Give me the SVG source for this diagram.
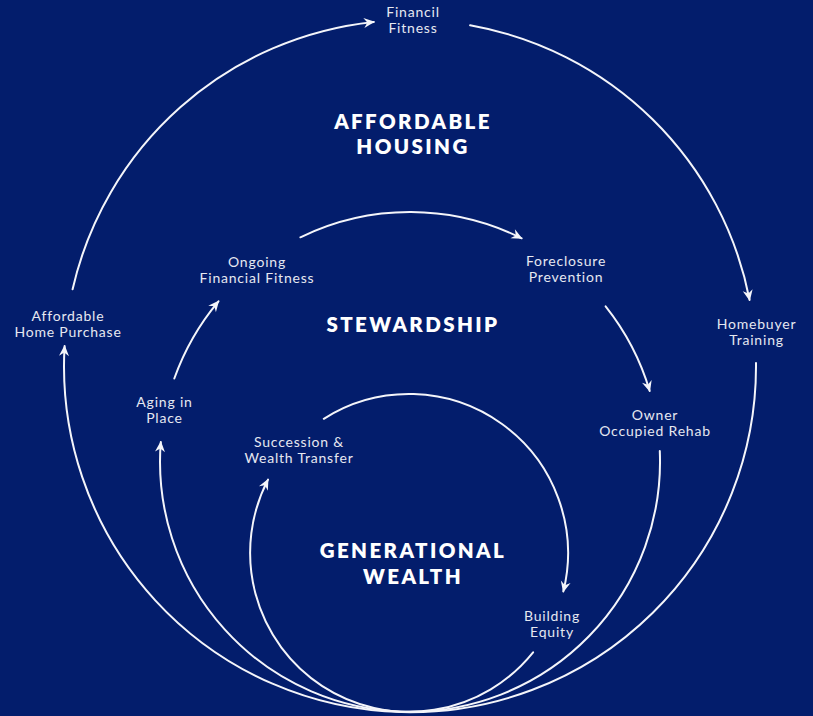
<svg xmlns="http://www.w3.org/2000/svg" width="813" height="716" viewBox="0 0 813 716">
  <style>
    .bg { fill: #031d6c; }
    .arc { fill: none; stroke: #f4f5fa; stroke-width: 2; stroke-linecap: round; }
    .arrowed { marker-end: url(#head); }
    .label { font-family: Lato, "Open Sans", "Liberation Sans", sans-serif; font-size: 14px; letter-spacing: 0.8px; fill: #e6e8f1; text-anchor: middle; }
    .title { font-family: Lato, "Open Sans", "Liberation Sans", sans-serif; font-weight: 800; font-size: 20.5px; letter-spacing: 2.4px; fill: #ffffff; text-anchor: middle; }
  </style>
  <defs>
    <marker id="head" viewBox="-11 -6 13 12" markerWidth="13" markerHeight="12" refX="0" refY="0" orient="auto" markerUnits="userSpaceOnUse">
      <path d="M1,0 L-10,-5 L-6.5,0 L-10,5 Z" fill="#f4f5fa"/>
    </marker>
  </defs>

  <rect class="bg" x="0" y="0" width="813" height="716"/>

  <!-- three circles touching at the bottom, broken where labels sit -->
  <g id="connectors">
    <!-- outer ring: centre (410,366), r 346 -->
    <path class="arc arrowed" d="M756,363 A346,346 0 1 1 64.6,346.1"/>
    <path class="arc arrowed" d="M72.6,289.3 A346,346 0 0 1 373.8,21.9"/>
    <path class="arc arrowed" d="M470.1,25.3 A346,346 0 0 1 749.6,300"/>
    <!-- middle ring: centre (410,462), r 250 -->
    <path class="arc arrowed" d="M659.8,451.1 A250,250 0 1 1 160.8,442"/>
    <path class="arc arrowed" d="M174.3,378.5 A250,250 0 0 1 218.5,301.3"/>
    <path class="arc arrowed" d="M300.4,237.3 A250,250 0 0 1 521.6,238.3"/>
    <path class="arc arrowed" d="M605.6,306.4 A250,250 0 0 1 649.7,391"/>
    <!-- inner ring: centre (409,553), r 159 -->
    <path class="arc arrowed" d="M533.1,652.4 A159,159 0 0 1 268,479.6"/>
    <path class="arc arrowed" d="M323.8,418.8 A159,159 0 0 1 563.3,591.5"/>
  </g>

  <g id="affordable-housing">
    <text class="title" x="413" y="128.5">AFFORDABLE</text>
    <text class="title" x="413" y="154">HOUSING</text>
  </g>
  <g id="stewardship">
    <text class="title" x="413" y="331.5">STEWARDSHIP</text>
  </g>
  <g id="generational-wealth">
    <text class="title" x="413" y="558">GENERATIONAL</text>
    <text class="title" x="413" y="584">WEALTH</text>
  </g>

  <g id="financil-fitness">
    <text class="label" x="413" y="16.5">Financil</text>
    <text class="label" x="413" y="32.5">Fitness</text>
  </g>
  <g id="homebuyer-training">
    <text class="label" x="756.5" y="329">Homebuyer</text>
    <text class="label" x="756.5" y="345">Training</text>
  </g>
  <g id="affordable-home-purchase">
    <text class="label" x="68" y="321">Affordable</text>
    <text class="label" x="68" y="336.5">Home Purchase</text>
  </g>
  <g id="ongoing-financial-fitness">
    <text class="label" x="257" y="267">Ongoing</text>
    <text class="label" x="257" y="283">Financial Fitness</text>
  </g>
  <g id="foreclosure-prevention">
    <text class="label" x="566" y="266">Foreclosure</text>
    <text class="label" x="566" y="282">Prevention</text>
  </g>
  <g id="owner-occupied-rehab">
    <text class="label" x="655" y="420">Owner</text>
    <text class="label" x="655" y="436">Occupied Rehab</text>
  </g>
  <g id="aging-in-place">
    <text class="label" x="164.5" y="407">Aging in</text>
    <text class="label" x="164.5" y="423">Place</text>
  </g>
  <g id="succession-wealth-transfer">
    <text class="label" x="299" y="447">Succession &amp;</text>
    <text class="label" x="299" y="463">Wealth Transfer</text>
  </g>
  <g id="building-equity">
    <text class="label" x="552" y="621">Building</text>
    <text class="label" x="552" y="637">Equity</text>
  </g>
</svg>
